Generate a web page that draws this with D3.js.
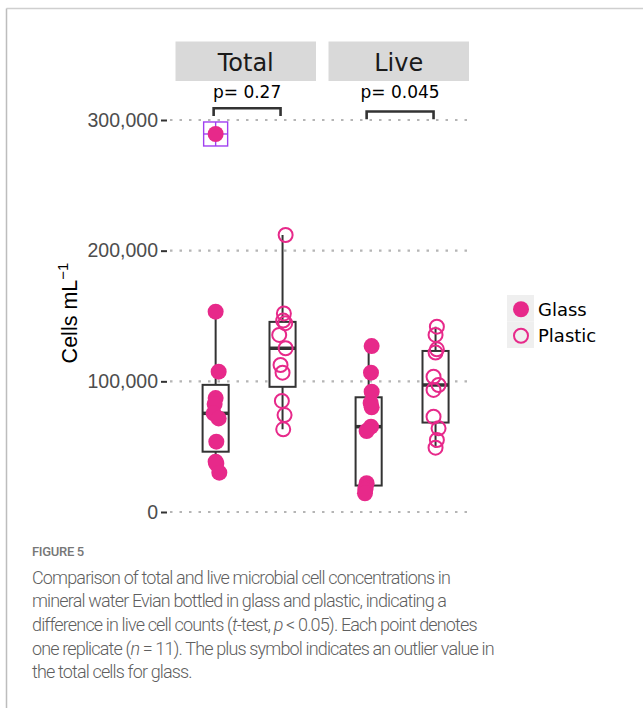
<!DOCTYPE html>
<html>
<head>
<meta charset="utf-8">
<script src="https://cdn.jsdelivr.net/npm/d3@7"></script>
<style>
  body { margin: 0; background: #fff; }
  svg { display: block; }
</style>
</head>
<body>
<script>
// ---- data -------------------------------------------------------------
const panels = ["Total", "Live"];
const containers = ["Glass", "Plastic"];

// cells per mL, one value per replicate (n = 11)
const totalGlass   = [289300, 153300, 107400, 87200, 82600, 75500, 71600, 53800, 38500, 37000, 30100];
const totalPlastic = [212000, 152000, 146500, 144500, 135500, 125300, 112500, 106600, 85000, 74200, 63300];
const liveGlass    = [127000, 106600, 92100, 83500, 80100, 65300, 62000, 22000, 18500, 17000, 14300];
const livePlastic  = [141800, 135500, 124500, 122000, 103500, 97200, 93400, 72900, 64000, 55100, 49200];

// horizontal jitter of each replicate, in category units
const totalGlassJitter   = [0, 0, 0.045, 0, -0.015, -0.03, 0.045, 0.01, 0, 0.01, 0.055];
const totalPlasticJitter = [0.046, 0.02, 0.01, 0.04, -0.05, 0.046, -0.03, 0, -0.01, 0.03, 0.01];
const liveGlassJitter    = [0.045, 0.035, 0.045, 0.03, 0.045, 0.035, -0.03, -0.03, -0.045, -0.05, -0.055];
const livePlasticJitter  = [0.02, 0, 0.02, 0, -0.03, 0.045, -0.03, -0.03, 0.045, 0.02, 0];

const yTicks = [0, 100000, 200000, 300000];

// t-test results drawn above each panel
const pLabels  = ["p= 0.27", "p= 0.045"];
const bracketY = [309000, 306500];
const bracketTip = 6000;

const captionTitle = "FIGURE 5";
const captionLines = [
  [["Comparison of total and live microbial cell concentrations in", false]],
  [["mineral water Evian bottled in glass and plastic, indicating a", false]],
  [["difference in live cell counts (", false], ["t", true], ["-test, ", false], ["p", true], [" < 0.05). Each point denotes", false]],
  [["one replicate (", false], ["n", true], [" = 11). The plus symbol indicates an outlier value in", false]],
  [["the total cells for glass.", false]]
];

const series = [
  { panel: "Total", group: "Glass",   values: totalGlass,   jitter: totalGlassJitter },
  { panel: "Total", group: "Plastic", values: totalPlastic, jitter: totalPlasticJitter },
  { panel: "Live",  group: "Glass",   values: liveGlass,    jitter: liveGlassJitter },
  { panel: "Live",  group: "Plastic", values: livePlastic,  jitter: livePlasticJitter }
];

// ---- layout -----------------------------------------------------------
const W = 643, H = 708;
const pink = "#E7298A";
const boxInk = "#333333";

const svg = d3.select("body").append("svg").attr("width", W).attr("height", H);

// figure frame (top and left rules)
svg.append("line").attr("x1", 6.5).attr("x2", W).attr("y1", 8.5).attr("y2", 8.5)
  .attr("stroke", "#cfcfcf").attr("stroke-width", 1.5);
svg.append("line").attr("x1", 6.5).attr("x2", 6.5).attr("y1", 8.5).attr("y2", H)
  .attr("stroke", "#bdbdbd").attr("stroke-width", 1.5);

const y = d3.scaleLinear().domain([0, 300000]).range([512, 120]);

const panelRange = { Total: [175.5, 316], Live: [328.5, 469] };
const xScales = {};
panels.forEach(p => {
  xScales[p] = d3.scaleLinear().domain([0.4, 2.5]).range(panelRange[p]);
});
const catIndex = g => containers.indexOf(g) + 1;

// gridlines (dotted)
svg.append("g").selectAll("line").data(yTicks).join("line")
  .attr("x1", 170).attr("x2", 469)
  .attr("y1", d => y(d)).attr("y2", d => y(d))
  .attr("stroke", "#b5b5b5").attr("stroke-width", 2.2)
  .attr("stroke-dasharray", "2.5,7");

// y axis
const yAxis = svg.append("g").attr("transform", "translate(167,0)")
  .call(d3.axisLeft(y).tickValues(yTicks).tickFormat(d3.format(",")).tickSize(6).tickPadding(3));
yAxis.select(".domain").remove();
yAxis.selectAll(".tick line").attr("stroke", "#333").attr("stroke-width", 2);
yAxis.selectAll(".tick text")
  .attr("fill", "#4d4d4d")
  .style("font-family", "'Liberation Sans', Arial, sans-serif")
  .style("font-size", "19.5px");

// y axis title
const yTitle = svg.append("text")
  .attr("transform", "translate(77,313) rotate(-90)")
  .attr("text-anchor", "middle")
  .style("font-family", "'Liberation Sans', Arial, sans-serif")
  .style("font-size", "21.5px")
  .attr("fill", "#000");
yTitle.append("tspan").text("Cells mL");
yTitle.append("tspan").attr("dy", -9).style("font-size", "15px").text("\u22121");

// strips
panels.forEach(p => {
  const [x0, x1] = panelRange[p];
  svg.append("rect").attr("x", x0).attr("y", 41.5).attr("width", x1 - x0).attr("height", 39.5)
    .attr("fill", "#d9d9d9");
  svg.append("text").attr("x", (x0 + x1) / 2).attr("y", 70.5)
    .attr("text-anchor", "middle")
    .style("font-family", "'DejaVu Sans', sans-serif").style("font-size", "24px")
    .attr("fill", "#1a1a1a").text(p);
});

// boxplots
function boxStats(vals) {
  const s = vals.slice().sort(d3.ascending);
  const q1 = d3.quantile(s, 0.25), med = d3.quantile(s, 0.5), q3 = d3.quantile(s, 0.75);
  const iqr = q3 - q1;
  const inside = s.filter(v => v >= q1 - 1.5 * iqr && v <= q3 + 1.5 * iqr);
  return {
    q1, med, q3,
    lo: d3.min(inside), hi: d3.max(inside),
    out: s.filter(v => v < q1 - 1.5 * iqr || v > q3 + 1.5 * iqr)
  };
}

const boxHalf = 0.195;
series.forEach(sr => {
  const x = xScales[sr.panel];
  const c = catIndex(sr.group);
  const st = boxStats(sr.values);
  const g = svg.append("g");
  const xl = x(c - boxHalf), xr = x(c + boxHalf), xc = x(c);
  g.append("line").attr("x1", xc).attr("x2", xc).attr("y1", y(st.q3)).attr("y2", y(st.hi))
    .attr("stroke", boxInk).attr("stroke-width", 2);
  g.append("line").attr("x1", xc).attr("x2", xc).attr("y1", y(st.q1)).attr("y2", y(st.lo))
    .attr("stroke", boxInk).attr("stroke-width", 2);
  g.append("rect").attr("x", xl).attr("y", y(st.q3)).attr("width", xr - xl)
    .attr("height", y(st.q1) - y(st.q3))
    .attr("fill", "#fff").attr("stroke", boxInk).attr("stroke-width", 2);
  g.append("line").attr("x1", xl).attr("x2", xr).attr("y1", y(st.med)).attr("y2", y(st.med))
    .attr("stroke", boxInk).attr("stroke-width", 3.5);
  // outliers: square with plus
  st.out.forEach(v => {
    const s = 12;
    const oy = y(v);
    const og = g.append("g").attr("stroke", "#A040F0").attr("stroke-width", 1.4).attr("fill", "none");
    og.append("rect").attr("x", xc - s).attr("y", oy - s).attr("width", 2 * s).attr("height", 2 * s);
    og.append("line").attr("x1", xc - s).attr("x2", xc + s).attr("y1", oy).attr("y2", oy);
    og.append("line").attr("x1", xc).attr("x2", xc).attr("y1", oy - s).attr("y2", oy + s);
  });
});

// replicate points
series.forEach(sr => {
  const x = xScales[sr.panel];
  const c = catIndex(sr.group);
  const filled = sr.group === "Glass";
  svg.append("g").selectAll("circle").data(sr.values.map((v, i) => ({ v, j: sr.jitter[i] })))
    .join("circle")
    .attr("cx", d => x(c + d.j))
    .attr("cy", d => y(d.v))
    .attr("r", filled ? 8 : 7)
    .attr("fill", filled ? pink : "none")
    .attr("stroke", pink)
    .attr("stroke-width", filled ? 0 : 2);
});

// significance brackets
const labelY = y(d3.max(bracketY)) - 10;
panels.forEach((p, i) => {
  const x = xScales[p];
  const yb = y(bracketY[i]), yt = y(bracketY[i] - bracketTip);
  const x0 = x(1) - 2, x1 = x(2) - 2;
  svg.append("path")
    .attr("d", `M${x0},${yt}V${yb}H${x1}V${yt}`)
    .attr("fill", "none").attr("stroke", "#333").attr("stroke-width", 2.6);
  svg.append("text").attr("x", (x0 + x1) / 2).attr("y", labelY)
    .attr("text-anchor", "middle")
    .style("font-family", "'DejaVu Sans', sans-serif").style("font-size", "17px")
    .attr("fill", "#000").text(pLabels[i]);
});

// legend
const legX = 507, legY = 295, keyW = 27, keyH = 26.5;
containers.forEach((g, i) => {
  const ky = legY + i * keyH;
  svg.append("rect").attr("x", legX).attr("y", ky).attr("width", keyW).attr("height", keyH)
    .attr("fill", "#efefef");
  const filled = g === "Glass";
  svg.append("circle").attr("cx", legX + 14).attr("cy", ky + keyH / 2 + 1)
    .attr("r", filled ? 8 : 7)
    .attr("fill", filled ? pink : "none").attr("stroke", pink).attr("stroke-width", filled ? 0 : 2);
  svg.append("text").attr("x", legX + 31).attr("y", ky + keyH / 2 + 7.5)
    .style("font-family", "'DejaVu Sans', sans-serif").style("font-size", "18px")
    .attr("fill", "#000").text(g);
});

// caption
svg.append("text").attr("x", 32).attr("y", 556)
  .style("font-family", "Roboto, sans-serif").style("font-size", "13px")
  .style("font-weight", 500).style("letter-spacing", "-0.3px")
  .attr("fill", "#777").text(captionTitle);

const capGroup = svg.append("g").attr("fill", "#5f5f5f")
  .style("font-family", "Roboto, sans-serif").style("font-weight", 300)
  .style("font-size", "18px");
const capTexts = captionLines.map((parts, li) => {
  const t = capGroup.append("text").attr("x", 32).attr("y", 583.5 + li * 23.7);
  parts.forEach(([s, it]) => t.append("tspan").style("font-style", it ? "italic" : "normal").text(s));
  return t;
});
// tighten letter spacing so the first line spans the text column
const first = capTexts[0].node();
const nChars = captionLines[0].map(p => p[0]).join("").length;
const spacing = (418 - first.getComputedTextLength()) / nChars;
capGroup.style("letter-spacing", spacing.toFixed(3) + "px");
</script>
</body>
</html>
